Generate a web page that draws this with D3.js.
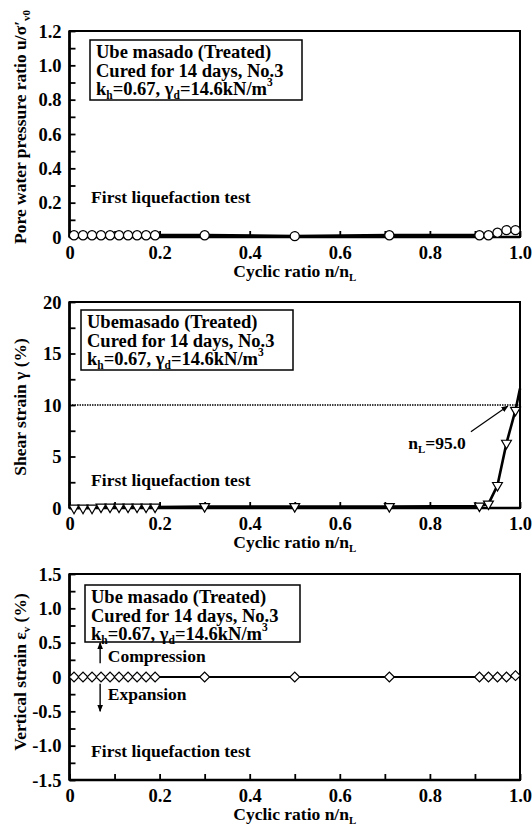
<!DOCTYPE html>
<html>
<head>
<meta charset="utf-8">
<script src="https://cdn.jsdelivr.net/npm/d3@7"></script>
<style>
  body { margin: 0; background: #fff; }
  svg text, svg tspan { font-family: "Liberation Serif", "Times New Roman", serif; font-weight: bold; fill: #000; }
</style>
</head>
<body>
<div id="chart"></div>
<script>
// cyclic ratio n/nL of each reading
var cyclicRatio = [0.01, 0.03, 0.05, 0.07, 0.09, 0.11, 0.13, 0.15, 0.17, 0.19,
                   0.30, 0.50, 0.71, 0.91, 0.93, 0.95, 0.97, 0.99];
// pore water pressure ratio u/sigma'v0
var poreRatio = [0.01, 0.01, 0.01, 0.01, 0.01, 0.01, 0.01, 0.01, 0.01, 0.01,
                 0.01, 0.005, 0.01, 0.01, 0.01, 0.025, 0.04, 0.04];
// shear strain (%)
var shearStrain = [0.0, 0.0, 0.0, 0.1, 0.1, 0.1, 0.1, 0.1, 0.1, 0.1,
                   0.15, 0.15, 0.15, 0.2, 0.4, 2.2, 6.3, 9.5];
// shear strain line carries on to the frame
var shearEnd = [1.0, 11.6];
// vertical strain (%)
var verticalStrain = [0, 0, 0, 0, 0, 0, 0, 0, 0, 0,
                      0, 0, 0, 0, 0, 0, 0, 0.02];

var xTicks = [0, 0.1, 0.2, 0.3, 0.4, 0.5, 0.6, 0.7, 0.8, 0.9, 1.0];
var xLabels = [0, 0.2, 0.4, 0.6, 0.8, 1.0];
var poreTicks = [0, 0.1, 0.2, 0.3, 0.4, 0.5, 0.6, 0.7, 0.8, 0.9, 1.0, 1.1, 1.2];
var poreLabels = [0, 0.2, 0.4, 0.6, 0.8, 1.0, 1.2];
var shearTicks = [0, 2.5, 5, 7.5, 10, 12.5, 15, 17.5, 20];
var shearLabels = [0, 5, 10, 15, 20];
var vertTicks = [-1.5, -1.25, -1.0, -0.75, -0.5, -0.25, 0, 0.25, 0.5, 0.75, 1.0, 1.25, 1.5];
var vertLabels = [-1.5, -1.0, -0.5, 0, 0.5, 1.0, 1.5];

var liquefactionLevel = 10;

var width = 532, height = 828,
    left = 69.5, right = 520,
    plotH = 206,
    fs = 17.5,    // titles
    tfs = 18.5,   // tick labels
    bfs = 18.5;   // box text

var svg = d3.select('#chart').append('svg')
  .attr('width', width)
  .attr('height', height)
  .attr('font-family', 'Liberation Serif')
  .attr('font-weight', 'bold');

svg.append('defs').append('marker')
  .attr('id', 'head')
  .attr('viewBox', '0 0 10 10')
  .attr('refX', 9).attr('refY', 5)
  .attr('markerWidth', 7).attr('markerHeight', 7)
  .attr('markerUnits', 'userSpaceOnUse')
  .attr('orient', 'auto')
  .append('path')
  .attr('d', 'M0,1 L10,5 L0,9 Z')
  .attr('fill', '#000');

var x = d3.scaleLinear().domain([0, 1]).range([left, right]);

// write text with sub/superscripts: parts = [[str, 'sub'|'sup'|null], ...]
function rich(sel, parts, size) {
  var shift = 0;
  size = size || fs;
  parts.forEach(function(p) {
    var dy = 0, s = size;
    if (p[1] === 'sub') { dy = 4 - shift; shift = 4; s = size * 0.62; }
    else if (p[1] === 'sup') { dy = -9 - shift; shift = -9; s = size * 0.62; }
    else { dy = -shift; shift = 0; }
    sel.append('tspan').attr('dy', dy).style('font-size', s + 'px').text(p[0]);
  });
  return sel;
}

function fmt(d) {
  if (d === 0) return '0';
  return Number.isInteger(d) && Math.abs(d) >= 5 ? String(d) : d.toFixed(1);
}

function drawPanel(cfg) {
  var top = cfg.top;
  var y = d3.scaleLinear().domain(cfg.domain).range([top + plotH, top]);
  var g = svg.append('g');

  // frame
  g.append('rect')
    .attr('x', left).attr('y', top)
    .attr('width', right - left).attr('height', plotH)
    .attr('fill', 'none').attr('stroke', '#000').attr('stroke-width', 2);

  // y ticks (inward)
  var yAxis = d3.axisLeft(y)
    .tickValues(cfg.ticks)
    .tickSize(-6)
    .tickPadding(8)
    .tickFormat(function(d) { return cfg.labels.indexOf(d) >= 0 ? cfg.fmt(d) : ''; });
  var ya = g.append('g').attr('transform', 'translate(' + left + ',0)').call(yAxis)
    .attr('font-family', null).attr('font-size', null);
  ya.select('.domain').remove();
  ya.selectAll('line').attr('stroke', '#000').attr('stroke-width', 1.8);
  ya.selectAll('text').style('font-size', tfs + 'px').attr('dy', '0.34em');

  // x ticks (inward)
  var xAxis = d3.axisBottom(x)
    .tickValues(xTicks)
    .tickSize(-6)
    .tickPadding(9)
    .tickFormat(function(d) { return xLabels.indexOf(d) >= 0 ? fmt(d) : ''; });
  var xa = g.append('g').attr('transform', 'translate(0,' + (top + plotH) + ')').call(xAxis)
    .attr('font-family', null).attr('font-size', null);
  xa.select('.domain').remove();
  xa.selectAll('line').attr('stroke', '#000').attr('stroke-width', 1.8);
  xa.selectAll('text').style('font-size', tfs + 'px').attr('dy', '0.71em');

  // heavier left and bottom axes
  g.append('line').attr('x1', left).attr('x2', left).attr('y1', top).attr('y2', top + plotH)
    .attr('stroke', '#000').attr('stroke-width', 2.6);
  g.append('line').attr('x1', left).attr('x2', right).attr('y1', top + plotH).attr('y2', top + plotH)
    .attr('stroke', '#000').attr('stroke-width', 2.6);

  // x title
  rich(g.append('text')
    .attr('x', (left + right) / 2).attr('y', top + plotH + 40)
    .attr('text-anchor', 'middle'), [['Cyclic ratio n/n', null], ['L', 'sub']]);

  // y title
  rich(g.append('text')
    .attr('transform', 'translate(26,' + cfg.ytitleY + ') rotate(-90)')
    .attr('text-anchor', 'middle'), cfg.ytitle);

  // info box
  g.append('rect')
    .attr('x', cfg.box[0]).attr('y', cfg.box[1])
    .attr('width', cfg.box[2]).attr('height', cfg.box[3])
    .attr('fill', '#fff').attr('stroke', '#000').attr('stroke-width', 1.5);
  cfg.boxLines.forEach(function(line, i) {
    rich(g.append('text')
      .attr('x', cfg.box[0] + 6)
      .attr('y', cfg.box[1] + 18 + i * 18.7), line, bfs);
  });

  g.append('text')
    .attr('x', x(0.048)).attr('y', y(cfg.testY))
    .style('font-size', fs + 'px')
    .text('First liquefaction test');

  var pts = cyclicRatio.map(function(c, i) { return [c, cfg.values[i]]; });
  var linePts = cfg.end ? pts.concat([cfg.end]) : pts;
  var line = d3.line().x(function(d) { return x(d[0]); }).y(function(d) { return y(d[1]); });

  if (cfg.extra) cfg.extra(g, y);

  g.append('path')
    .datum(linePts)
    .attr('d', line)
    .attr('fill', 'none')
    .attr('stroke', '#000')
    .attr('stroke-width', cfg.lineW)
    .attr('stroke-linejoin', 'round');

  g.selectAll('.mark')
    .data(pts)
    .enter()
    .append('path')
    .attr('class', 'mark')
    .attr('d', d3.symbol().type(cfg.symbol).size(cfg.symSize))
    .attr('transform', function(d) {
      return 'translate(' + x(d[0]) + ',' + y(d[1]) + ') rotate(' + cfg.rot + ')';
    })
    .attr('fill', '#fff')
    .attr('stroke', '#000')
    .attr('stroke-width', 1.2);
}

var boxText = [
  [['Cured for 14 days, No.3', null]],
  [['k', null], ['h', 'sub'], ['=0.67, ', null], ['\u03b3', null], ['d', 'sub'], ['=14.6kN/m', null], ['3', 'sup']]
];

drawPanel({
  top: 31,
  domain: [0, 1.2],
  ticks: poreTicks,
  labels: poreLabels,
  fmt: fmt,
  values: poreRatio,
  symbol: d3.symbolCircle, symSize: 66, rot: 0,
  lineW: 3,
  ytitleY: 127,
  ytitle: [['Pore water pressure ratio u/\u03c3\u2032', null], ['v0', 'sub']],
  box: [90, 40, 212, 60],
  boxLines: [[['Ube masado (Treated)', null]]].concat(boxText),
  testY: 0.2
});

drawPanel({
  top: 302,
  domain: [0, 20],
  ticks: shearTicks,
  labels: shearLabels,
  fmt: function(d) { return String(d); },
  values: shearStrain,
  end: shearEnd,
  symbol: d3.symbolTriangle, symSize: 42, rot: 180,
  lineW: 2.6,
  ytitleY: 407,
  ytitle: [['Shear strain \u03b3 (%)', null]],
  box: [81, 310, 212, 60],
  boxLines: [[['Ubemasado (Treated)', null]]].concat(boxText),
  testY: 2.1,
  extra: function(g, y) {
    g.append('line')
      .attr('x1', x(0)).attr('x2', x(1))
      .attr('y1', y(liquefactionLevel)).attr('y2', y(liquefactionLevel))
      .attr('stroke', '#000').attr('stroke-width', 1.5)
      .attr('stroke-dasharray', '1.5,1');
    g.append('line')
      .attr('x1', x(0.891)).attr('y1', y(7.4))
      .attr('x2', x(0.973)).attr('y2', y(9.9))
      .attr('stroke', '#000').attr('stroke-width', 1.2)
      .attr('marker-end', 'url(#head)');
    rich(g.append('text').attr('x', x(0.752)).attr('y', y(5.7)),
      [['n', null], ['L', 'sub'], ['=95.0', null]]);
  }
});

drawPanel({
  top: 574,
  domain: [-1.5, 1.5],
  ticks: vertTicks,
  labels: vertLabels,
  fmt: fmt,
  values: verticalStrain,
  symbol: d3.symbolSquare, symSize: 48, rot: 45,
  lineW: 2.2,
  ytitleY: 672,
  ytitle: [['Vertical strain \u03b5', null], ['v', 'sub'], [' (%)', null]],
  box: [85, 585, 215, 57],
  boxLines: [[['Ube masado (Treated)', null]]].concat(boxText),
  testY: -1.165,
  extra: function(g, y) {
    g.append('line')
      .attr('x1', x(0.068)).attr('x2', x(0.068))
      .attr('y1', y(0.2)).attr('y2', y(0.5))
      .attr('stroke', '#000').attr('stroke-width', 1.4)
      .attr('marker-end', 'url(#head)');
    g.append('line')
      .attr('x1', x(0.068)).attr('x2', x(0.068))
      .attr('y1', y(-0.1)).attr('y2', y(-0.5))
      .attr('stroke', '#000').attr('stroke-width', 1.4)
      .attr('marker-end', 'url(#head)');
    g.append('text').attr('x', x(0.085)).attr('y', y(0.22))
      .style('font-size', fs + 'px').text('Compression');
    g.append('text').attr('x', x(0.085)).attr('y', y(-0.33))
      .style('font-size', fs + 'px').text('Expansion');
  }
});
</script>
</body>
</html>
